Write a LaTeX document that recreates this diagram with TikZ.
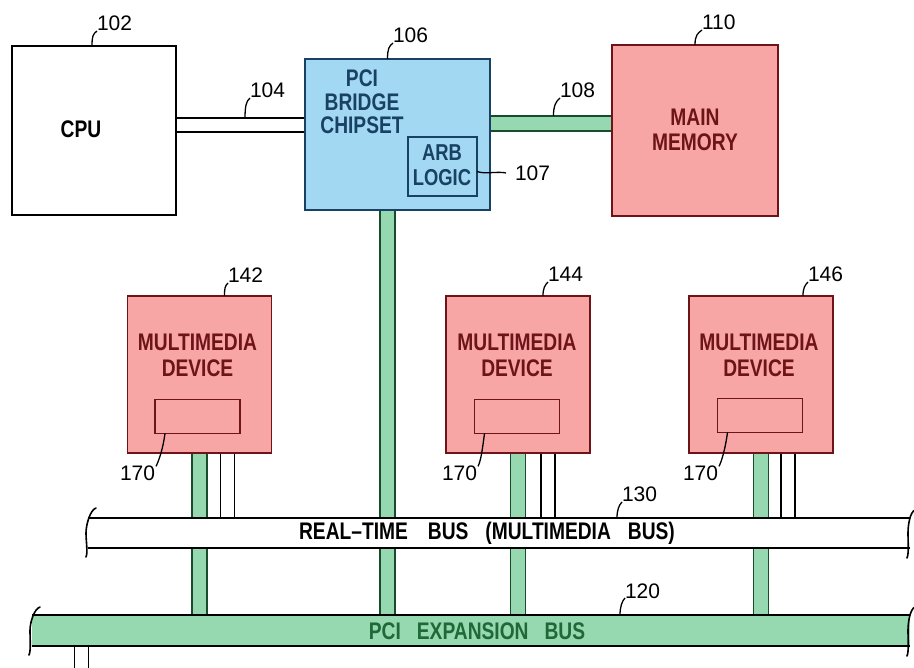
\documentclass[tikz,border=0pt]{standalone}
\usepackage{fontspec}
\setmainfont{Liberation Sans}
\newfontfamily\handfont{Liberation Sans}[FakeStretch=0.8]
\usetikzlibrary{calc}
\pgfdeclarelayer{bg}
\pgfsetlayers{bg,main}
\definecolor{pinkfill}{RGB}{248,165,165}
\definecolor{pinkdark}{RGB}{110,20,25}
\definecolor{bluefill}{RGB}{163,216,242}
\definecolor{bluedark}{RGB}{25,65,100}
\definecolor{greenfill}{RGB}{150,216,176}
\definecolor{greendark}{RGB}{25,75,45}
\definecolor{greentext}{RGB}{30,105,55}
\begin{document}
\begin{tikzpicture}[x=1pt,y=-1pt,
  every node/.style={inner sep=0pt, outer sep=0pt},
  txt/.style={font=\handfont\bfseries\fontsize{24}{25.5}\selectfont, align=center},
  num/.style={font=\fontsize{21}{22}\selectfont, anchor=base west},
  box/.style={draw, line width=1.7pt},
  pinkbox/.style={box, draw=pinkdark, fill=pinkfill},
  bluebox/.style={box, draw=bluedark, fill=bluefill},
  devbox/.style={pinkbox, minimum width=144pt, minimum height=157pt},
  innerbox/.style={box, draw=pinkdark, minimum width=85pt, minimum height=34pt},
  devtxt/.style={txt, text=pinkdark},
  leader/.style={line width=1.3pt},
  gbus/.style={draw=greendark, line width=1.6pt, double=greenfill, double distance=13.5pt},
  wbus/.style={draw=black, line width=1.6pt, double=white, double distance=12.5pt},
  busline/.style={line width=1.8pt},
  brk/.style={line width=1.6pt, line cap=round},
]
\useasboundingbox (0,0) rectangle (914,668);

% ---------- boxes ----------
\node[box, fill=white, minimum width=164pt, minimum height=169pt] (cpu) at (94,130.5) {};
\node[txt] (cputxt) at (81,129) {CPU};
\node[bluebox, minimum width=185pt, minimum height=151pt] (bridge) at (397.5,134.5) {};
\node[txt, text=bluedark, font=\handfont\bfseries\fontsize{24}{23.5}\selectfont] (bridgetxt) at (362,102) {PCI\\BRIDGE\\CHIPSET};
\node[box, draw=bluedark, minimum width=69pt, minimum height=59pt] (arb) at (442.5,166.5) {};
\node[txt, text=bluedark, font=\handfont\bfseries\fontsize{23}{25.5}\selectfont] (arbtxt) at (442,165) {ARB\\LOGIC};
\node[pinkbox, minimum width=166pt, minimum height=171pt] (mem) at (695,130.5) {};
\node[txt, text=pinkdark] (memtxt) at (695,130) {MAIN\\MEMORY};

\node[devbox] (d1) at (199.5,374.5) {};
\node[devbox] (d2) at (518,374.5) {};
\node[devbox] (d3) at (761,374.5) {};
\node[devtxt] (d1t) at ([xshift=-2pt,yshift=19pt]d1.center) {MULTIMEDIA\\DEVICE};
\node[devtxt] (d2t) at ([xshift=-1pt,yshift=19pt]d2.center) {MULTIMEDIA\\DEVICE};
\node[devtxt] (d3t) at ([xshift=-2pt,yshift=19pt]d3.center) {MULTIMEDIA\\DEVICE};
\node[innerbox] (i1) at (197.5,416.5) {};
\node[innerbox] (i2) at (517,416.5) {};
\node[innerbox] (i3) at (760,415.5) {};

% ---------- buses (background) ----------
\node[minimum width=822pt, minimum height=30pt] (rt) at (499,533) {};
\node[minimum width=878pt, minimum height=31pt] (pci) at (471,630.5) {};

\coordinate (c104) at ([yshift=5.5pt]cpu.east);
\coordinate (c108) at ([yshift=11pt]bridge.east);
\coordinate (g0) at ([xshift=-10pt]bridge.south);
\coordinate (w1) at ([xshift=28pt]d1.south);
\coordinate (w2) at ([xshift=30pt]d2.south);
\coordinate (w3) at ([xshift=27pt]d3.south);
\coordinate (wpb) at (81.5,672);

\begin{pgfonlayer}{bg}
  \draw[wbus] (c104) -- (c104 -| bridge.west) coordinate[pos=0.535] (m104);
  \draw[gbus] (c108) -- (c108 -| mem.west) coordinate[pos=0.52] (m108);
  \draw[gbus] (g0) -- (g0 |- pci.north);
  \draw[gbus] (d1.south) -- (d1.south |- pci.north);
  \draw[gbus] (d2.south) -- (d2.south |- pci.north);
  \draw[gbus] (d3.south) -- (d3.south |- pci.north);
  \draw[wbus] (w1) -- (w1 |- rt.north);
  \draw[wbus] (w2) -- (w2 |- rt.north);
  \draw[wbus] (w3) -- (w3 |- rt.north);
  \draw[wbus] (wpb |- pci.south) -- (wpb);
  % real-time bus
  \fill[white] (rt.north west) rectangle (rt.south east);
  \draw[busline] (rt.north west) -- (rt.north east) (rt.south west) -- (rt.south east);
\end{pgfonlayer}

\node[txt] (rttxt) at (487,533.5)
  {REAL\textendash TIME\hspace{20pt}BUS\hspace{17pt}(MULTIMEDIA\hspace{17pt}BUS)};
\draw[brk] ([shift={(8,-10)}]rt.north west) .. controls +(-6,2) and +(0,-8) .. ([xshift=-2pt]rt.west)
  .. controls +(0,8) and +(2,-4) .. ([shift={(-2,9)}]rt.south west);
\draw[brk] ([shift={(5,-8)}]rt.north east) .. controls +(-5,2) and +(0,-8) .. ([xshift=-2pt]rt.east)
  .. controls +(0,8) and +(2,-4) .. ([shift={(-3,10)}]rt.south east);

% PCI expansion bus
\fill[greenfill] (pci.north west) rectangle (pci.south east);
\draw[busline] (pci.north west) -- (pci.north east) (pci.south west) -- (pci.south east);
\node[txt, text=greentext] (pcitxt) at (477,631) {PCI\hspace{16pt}EXPANSION\hspace{16pt}BUS};
\draw[brk] ([shift={(8,-8)}]pci.north west) .. controls +(-6,2) and +(0,-8) .. ([xshift=-2pt]pci.west)
  .. controls +(0,8) and +(2,-4) .. ([shift={(-3,9)}]pci.south west);
\draw[brk] ([shift={(5,-8)}]pci.north east) .. controls +(-5,2) and +(0,-8) .. ([xshift=-2pt]pci.east)
  .. controls +(0,8) and +(2,-4) .. ([shift={(-3,10)}]pci.south east);

% ---------- reference numbers ----------
\node[num] (l102) at (97,31) {102};
\node[num] (l106) at (393,43) {106};
\node[num] (l104) at (250,98) {104};
\node[num] (l108) at (560,98) {108};
\node[num] (l110) at (702,30) {110};
\node[num] (l107) at (515,181) {107};
\node[num] (l142) at (228,283) {142};
\node[num] (l144) at (548,282) {144};
\node[num] (l146) at (808,282) {146};
\node[num] (l170a) at (120,481) {170};
\node[num] (l170b) at (442,481) {170};
\node[num] (l170c) at (683,481) {170};
\node[num] (l130) at (622,502) {130};
\node[num] (l120) at (625,598) {120};

\draw[leader] ([xshift=-2pt]cpu.north) .. controls +(0,-10) and +(-4,3) .. (l102.base west);
\draw[leader] ([xshift=-10pt]bridge.north) .. controls +(0,-10) and +(-4,3) .. (l106.base west);
\draw[leader] ([yshift=7.5pt]m104) .. controls +(0,-10) and +(-4,3) .. (l104.base west);
\draw[leader] ([yshift=7.5pt]m108) .. controls +(0,-10) and +(-4,3) .. (l108.base west);
\draw[leader] (mem.north) .. controls +(0,-10) and +(-4,3) .. (l110.base west);
\draw[leader] ([yshift=-5pt]arb.east) .. controls +(8,3) and +(-8,-2) .. ([xshift=-9pt,yshift=8pt]l107.base west);
\draw[leader] ([xshift=25pt]d1.north) .. controls +(0,-8) and +(-3,3) .. (l142.base west);
\draw[leader] ([xshift=25pt]d2.north) .. controls +(0,-8) and +(-3,3) .. (l144.base west);
\draw[leader] ([xshift=42pt]d3.north) .. controls +(0,-8) and +(-3,3) .. (l146.base west);
\draw[leader] ([xshift=10pt]i1.south west) .. controls +(-2,15) and +(3,-6) .. ([xshift=1pt]l170a.north east);
\draw[leader] ([xshift=10pt]i2.south west) .. controls +(-2,15) and +(3,-6) .. ([xshift=1pt]l170b.north east);
\draw[leader] ([xshift=10pt]i3.south west) .. controls +(-2,15) and +(3,-6) .. ([xshift=1pt]l170c.north east);
\draw[leader] ([xshift=118pt]rt.north) .. controls +(0,-8) and +(-3,3) .. (l130.base west);
\draw[leader] ([xshift=149pt]pci.north) .. controls +(0,-8) and +(-3,3) .. (l120.base west);
\end{tikzpicture}
\end{document}
